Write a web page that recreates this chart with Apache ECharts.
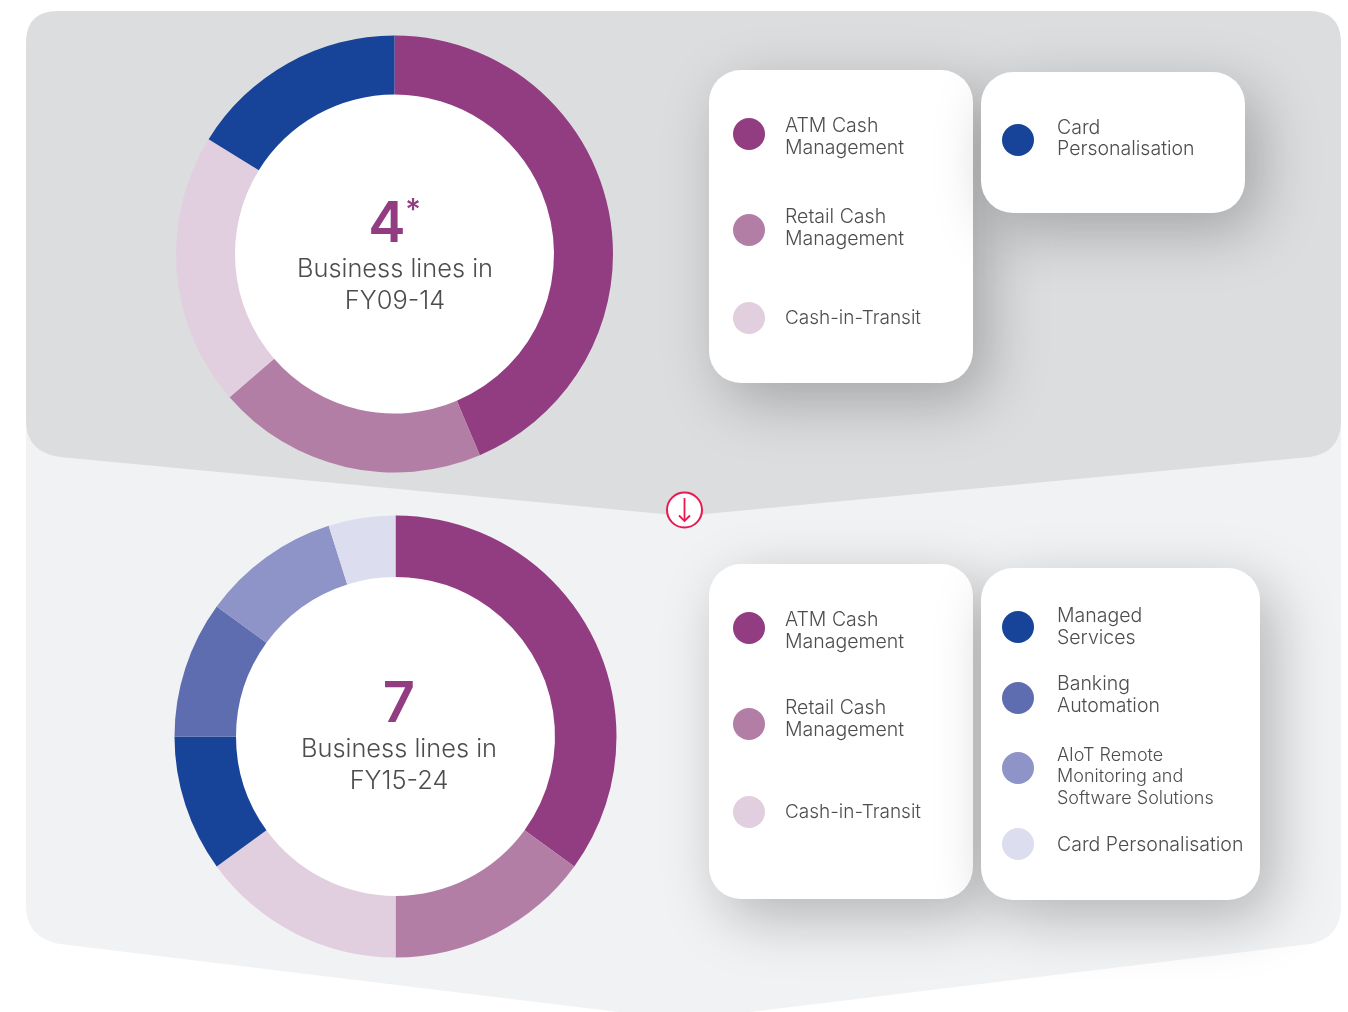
<!DOCTYPE html>
<html>
<head>
<meta charset="utf-8">
<title>Business lines</title>
<style>
html,body{margin:0;padding:0;background:#fff;}
#chart{width:1348px;height:1012px;}
</style>
<script src="https://cdn.jsdelivr.net/npm/echarts@6/dist/echarts.min.js"></script>
</head>
<body>
<div id="chart"></div>
<script>
// FY09-14 ring
var topNames = ['ATM Cash\nManagement', 'Retail Cash\nManagement', 'Cash-in-Transit', 'Card\nPersonalisation'];
var topValues = [157, 72, 72.7, 58.3];
var topColors = ['#923d81', '#b37ea6', '#e1cfe0', '#174499'];

// FY15-24 ring
var bottomNames = ['ATM Cash\nManagement', 'Retail Cash\nManagement', 'Cash-in-Transit', 'Managed\nServices',
    'Banking\nAutomation', 'AIoT Remote\nMonitoring and\nSoftware Solutions', 'Card Personalisation'];
var bottomValues = [126, 54, 54, 36, 36, 36.4, 17.6];
var bottomColors = ['#923d81', '#b37ea6', '#e1cfe0', '#174499', '#5e6db0', '#8e93c8', '#dcddee'];

var fontFamily = 'Inter, "Open Sans", sans-serif';
var textColor = '#4d4d4f';

var chart = echarts.init(document.getElementById('chart'), null, {renderer: 'canvas'});

function pieData(names, values, colors) {
    return values.map(function (v, i) {
        return {name: names[i], value: v, itemStyle: {color: colors[i]}};
    });
}

function ring(center, radius, names, values, colors) {
    return {
        type: 'pie',
        silent: true,
        animation: false,
        startAngle: 90,
        clockwise: true,
        center: center,
        radius: radius,
        label: {show: false},
        labelLine: {show: false},
        data: pieData(names, values, colors)
    };
}

// points of a rounded corner, from p0 to p2 with control point p1
function corner(p0, p1, p2) {
    var pts = [];
    for (var i = 0; i <= 16; i++) {
        var t = i / 16, u = 1 - t;
        pts.push([u * u * p0[0] + 2 * u * t * p1[0] + t * t * p2[0], u * u * p0[1] + 2 * u * t * p1[1] + t * t * p2[1]]);
    }
    return pts;
}

function panel(points, color, z) {
    return {type: 'polygon', z: z, shape: {points: points}, style: {fill: color}};
}

// rounded card with a soft drop shadow
function card(x, y, w, h) {
    return {
        type: 'rect',
        z: 2,
        shape: {x: x, y: y, width: w, height: h, r: 32},
        style: {fill: '#fff', shadowColor: 'rgba(0,0,0,0.26)', shadowBlur: 60, shadowOffsetX: 14, shadowOffsetY: 18}
    };
}

// legend row: dot and (possibly multi line) name
function legendRow(dotX, textX, dotY, textY, name, color, size) {
    return [{
        type: 'circle',
        z: 3,
        shape: {cx: dotX, cy: dotY, r: 16},
        style: {fill: color}
    }, {
        type: 'text',
        z: 3,
        style: {
            x: textX, y: textY, text: name, fill: textColor,
            font: '300 ' + (size || 19.5) + 'px ' + fontFamily, lineHeight: 21.5,
            textVerticalAlign: 'middle'
        }
    }];
}

function centerText(x, text, y, size, color, weight) {
    return {
        type: 'text',
        z: 3,
        style: {
            x: x, y: y, text: text, fill: color,
            font: (weight || 300) + ' ' + size + 'px ' + fontFamily,
            textAlign: 'center', textVerticalAlign: 'middle'
        }
    };
}

var lowerPanel = [[26, 420], [1341, 420]]
    .concat(corner([1341, 905], [1341, 938], [1310, 944]))
    .concat([[684, 1020]])
    .concat(corner([60, 944], [26, 938], [26, 905]));

var upperPanel = corner([26, 43], [26, 11], [58, 11])
    .concat(corner([1309, 11], [1341, 11], [1341, 43]))
    .concat(corner([1341, 420], [1341, 452], [1310, 457]))
    .concat([[684, 516]])
    .concat(corner([60, 457], [26, 452], [26, 420]));

var elements = [
    panel(lowerPanel, '#f1f2f4', 0),
    panel(upperPanel, '#dcdddf', 1),
    // white ring holes
    {type: 'circle', z: 1, shape: {cx: 394.5, cy: 254, r: 165}, style: {fill: '#fff'}},
    {type: 'circle', z: 1, shape: {cx: 395.5, cy: 736.5, r: 165}, style: {fill: '#fff'}},
    // arrow badge
    {type: 'circle', z: 3, shape: {cx: 684.5, cy: 510, r: 17.5}, style: {fill: '#fff', stroke: '#e8194f', lineWidth: 2}},
    {type: 'polyline', z: 3, shape: {points: [[684.5, 498], [684.5, 521]]}, style: {stroke: '#e8194f', lineWidth: 1.8, fill: null}},
    {type: 'polyline', z: 3, shape: {points: [[679, 515.5], [684.5, 521], [690, 515.5]]}, style: {stroke: '#e8194f', lineWidth: 1.8, fill: null}},

    card(709, 70, 264, 313),
    card(981, 72, 264, 141),
    card(709, 564, 264, 335),
    card(981, 568, 279, 332),

    centerText(387, '4', 225, 56, '#923d81', 600),
    centerText(413, '*', 211, 30, '#923d81', 500),
    centerText(395, 'Business lines in', 269, 25.4, textColor),
    centerText(395, 'FY09-14', 301, 25.4, textColor),
    centerText(399, '7', 705, 56, '#923d81', 600),
    centerText(399, 'Business lines in', 749, 25.4, textColor),
    centerText(399, 'FY15-24', 781, 25.4, textColor)
];

elements = elements.concat(
    legendRow(749, 785, 134, 137, topNames[0], topColors[0]),
    legendRow(749, 785, 230, 228, topNames[1], topColors[1]),
    legendRow(749, 785, 318, 318, topNames[2], topColors[2], 19),
    legendRow(1018, 1057, 140, 138.5, topNames[3], topColors[3]),

    legendRow(749, 785, 628, 631, bottomNames[0], bottomColors[0]),
    legendRow(749, 785, 724, 719, bottomNames[1], bottomColors[1]),
    legendRow(749, 785, 812, 812, bottomNames[2], bottomColors[2], 19),
    legendRow(1018, 1057, 627, 627, bottomNames[3], bottomColors[3]),
    legendRow(1018, 1057, 698, 695, bottomNames[4], bottomColors[4]),
    legendRow(1018, 1057, 768, 777, bottomNames[5], bottomColors[5], 18),
    legendRow(1018, 1057, 844, 845, bottomNames[6], bottomColors[6])
);

chart.setOption({
    animation: false,
    backgroundColor: '#fff',
    graphic: {elements: elements},
    series: [
        ring([394.5, 254], [159.5, 218.5], topNames, topValues, topColors),
        ring([395.5, 736.5], [159.5, 221], bottomNames, bottomValues, bottomColors)
    ]
});
</script>
</body>
</html>
